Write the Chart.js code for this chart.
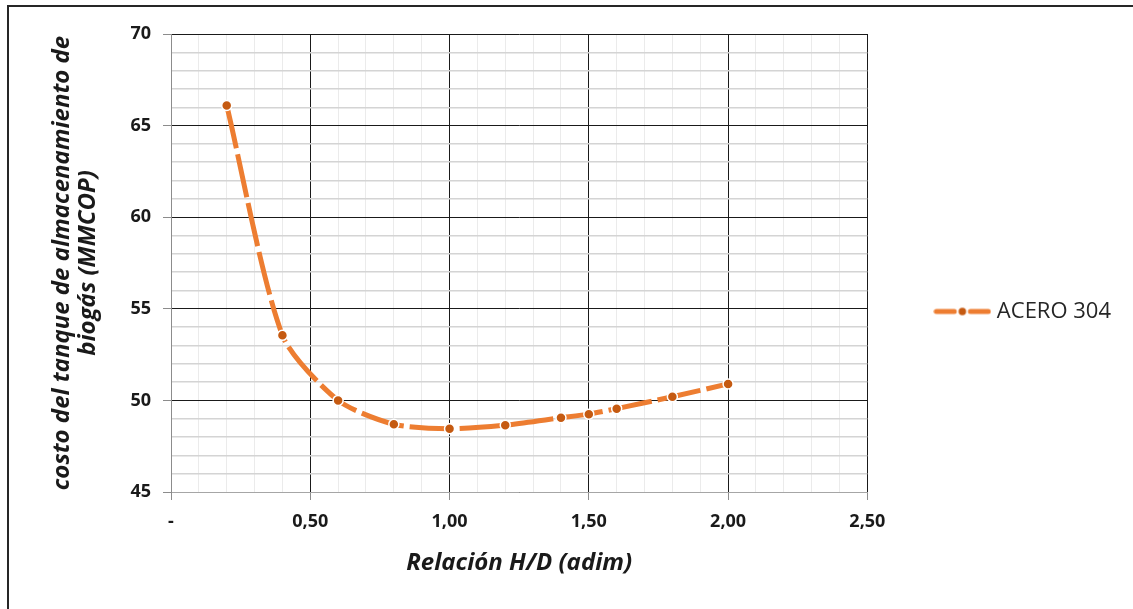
<!DOCTYPE html>
<html>
<head>
<meta charset="utf-8">
<title>Costo tanque de biogás</title>
<script src="https://cdn.jsdelivr.net/npm/chart.js@4/dist/chart.umd.min.js"></script>
<style>
  html, body { margin: 0; padding: 0; background: #fff; }
  #wrap { position: relative; width: 1133px; height: 609px; }
</style>
</head>
<body>
<div id="wrap"><canvas id="grafico"></canvas></div>
<script>
// valores de la curva (relación H/D vs costo en MMCOP)
var relacionHD = [0.2, 0.4, 0.6, 0.8, 1.0, 1.2, 1.4, 1.5, 1.6, 1.8, 2.0];
var costoAcero304 = [66.1, 53.55, 50.0, 48.7, 48.45, 48.65, 49.05, 49.25, 49.55, 50.2, 50.9];
var nombreSerie = 'ACERO 304';
var etiquetasX = ['-', '0,50', '1,00', '1,50', '2,00', '2,50'];
var etiquetasY = ['45', '50', '55', '60', '65', '70'];
var tituloX = 'Relación H/D (adim)';
var tituloY = ['costo del tanque de almacenamiento de', 'biogás (MMCOP)'];

var NARANJA = '#ED7D31';
var NARANJA_OSC = '#C55A11';
var FUENTE = '"Open Sans", Lato, sans-serif';

function esMayorX(v) { return Math.round(v * 10) % 5 === 0; }
function esMayorY(v) { return Math.round(v) % 5 === 0; }

// icono de la leyenda: guion - punto - guion
var iconoLeyenda = document.createElement('canvas');
iconoLeyenda.width = 58;
iconoLeyenda.height = 12;
(function () {
    var c = iconoLeyenda.getContext('2d');
    c.strokeStyle = NARANJA;
    c.lineWidth = 5;
    c.lineCap = 'round';
    c.beginPath();
    c.moveTo(3, 6); c.lineTo(21, 6);
    c.moveTo(37, 6); c.lineTo(55, 6);
    c.stroke();
    c.beginPath();
    c.arc(29, 6, 4.5, 0, Math.PI * 2);
    c.fillStyle = NARANJA_OSC;
    c.fill();
    c.lineWidth = 1.5;
    c.strokeStyle = '#fff';
    c.stroke();
})();

// marco exterior del gráfico
var marco = {
    id: 'marco',
    beforeDraw: function (chart) {
        var ctx = chart.ctx;
        ctx.save();
        ctx.fillStyle = '#fff';
        ctx.fillRect(0, 0, chart.width, chart.height);
        ctx.strokeStyle = '#262626';
        ctx.lineWidth = 2;
        ctx.beginPath();
        ctx.moveTo(8, chart.height + 5);
        ctx.lineTo(8, 6);
        ctx.lineTo(chart.width + 5, 6);
        ctx.stroke();
        ctx.restore();
    }
};

var datos = relacionHD.map(function (x, i) { return {x: x, y: costoAcero304[i]}; });

new Chart(document.getElementById('grafico'), {
    type: 'line',
    data: {
        datasets: [{
            label: nombreSerie,
            data: datos,
            borderColor: NARANJA,
            borderWidth: 5,
            borderDash: [44, 6],
            tension: 0.25,
            pointRadius: 5,
            pointBackgroundColor: NARANJA_OSC,
            pointBorderColor: '#fff',
            pointBorderWidth: 1.5,
            fill: false
        }]
    },
    options: {
        responsive: true,
        maintainAspectRatio: false,
        animation: false,
        layout: {padding: {top: 34, right: 12, bottom: 20, left: 0}},
        plugins: {
            legend: {
                position: 'right',
                labels: {
                    usePointStyle: true,
                    pointStyle: iconoLeyenda,
                    pointStyleWidth: 47,
                    padding: 71.5,
                    color: '#262626',
                    font: {family: FUENTE, size: 22}
                }
            },
            tooltip: {enabled: false}
        },
        scales: {
            x: {
                type: 'linear',
                min: 0,
                max: 2.5,
                afterFit: function (s) { s.height = 97; },
                ticks: {
                    stepSize: 0.1,
                    autoSkip: false,
                    maxRotation: 0,
                    padding: 11,
                    color: '#1a1a1a',
                    font: {family: FUENTE, size: 18, weight: 'bold'},
                    callback: function (v) {
                        return esMayorX(v) ? etiquetasX[Math.round(v * 2)] : '';
                    }
                },
                grid: {
                    color: function (c) { return esMayorX(c.tick.value) ? '#1a1a1a' : '#ebebeb'; },
                    tickColor: function (c) { return esMayorX(c.tick.value) ? '#8c8c8c' : 'rgba(0,0,0,0)'; },
                    tickLength: 8
                },
                border: {color: '#a6a6a6', width: 1},
                title: {
                    display: true,
                    text: tituloX,
                    color: '#1a1a1a',
                    padding: {top: 0, bottom: 13},
                    font: {family: FUENTE, size: 24, weight: 'bold', style: 'italic', lineHeight: 1.1}
                }
            },
            y: {
                type: 'linear',
                min: 45,
                max: 70,
                afterFit: function (s) { s.width = 171; },
                ticks: {
                    stepSize: 1,
                    autoSkip: false,
                    padding: 12,
                    color: '#1a1a1a',
                    font: {family: FUENTE, size: 18, weight: 'bold'},
                    callback: function (v) {
                        return esMayorY(v) ? etiquetasY[Math.round((v - 45) / 5)] : '';
                    }
                },
                grid: {
                    color: function (c) { return esMayorY(c.tick.value) ? '#1a1a1a' : '#d4d4d4'; },
                    tickColor: function (c) { return esMayorY(c.tick.value) ? '#8c8c8c' : 'rgba(0,0,0,0)'; },
                    tickLength: 8,
                    lineWidth: function (c) { return esMayorY(c.tick.value) ? 1 : 1.5; }
                },
                border: {color: '#8c8c8c', width: 1},
                title: {
                    display: true,
                    text: tituloY,
                    color: '#1a1a1a',
                    padding: {top: 49, bottom: 0},
                    font: {family: FUENTE, size: 24, weight: 'bold', style: 'italic', lineHeight: 1.1}
                }
            }
        }
    },
    plugins: [marco]
});
</script>
</body>
</html>
